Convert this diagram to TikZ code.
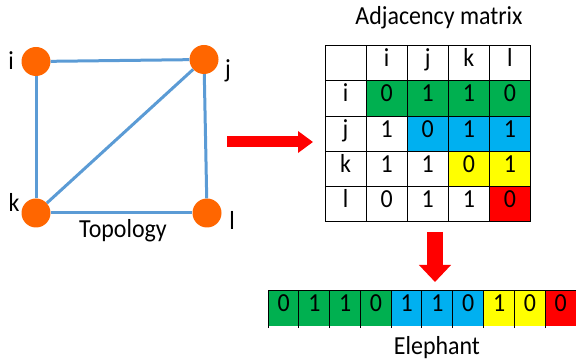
\documentclass[tikz,border=0pt]{standalone}
\usepackage{fontspec}
\usepackage{graphicx}
\setmainfont{Carlito}
\usetikzlibrary{arrows.meta}
\definecolor{vorange}{RGB}{255,102,0}
\definecolor{eblue}{RGB}{91,155,213}
\definecolor{cg}{RGB}{0,176,80}
\definecolor{cb}{RGB}{0,176,240}
\definecolor{cy}{RGB}{255,255,0}
\definecolor{cr}{RGB}{255,0,0}
\newcommand{\sqz}[1]{\scalebox{0.92}[1]{#1}}
\begin{document}
\begin{tikzpicture}[x=1pt,y=-1pt,
  txt/.style={font=\fontsize{26}{30}\selectfont, inner sep=0pt},
  vertex/.style={circle, fill=vorange, minimum size=29pt, inner sep=0pt},
  edge/.style={draw=eblue, line width=3pt},
  cell/.style={draw=black, line width=1pt, minimum width=41.1pt, minimum height=35.2pt, inner sep=0pt,
    font=\fontsize{26}{30}\selectfont, text height=1.45ex, text depth=0pt},
  barcell/.style={minimum width=30.77pt, minimum height=35pt, inner sep=0pt,
    font=\fontsize{26}{30}\selectfont, text height=1.45ex, text depth=0pt},
  bigarrow/.style={draw=cr, line width=11pt, -{Triangle[length=15pt,width=21pt]}},
]
\useasboundingbox (0,0) rectangle (576,363);

% graph
\node[vertex] (gi) at (36,61.5) {};
\node[vertex] (gj) at (204,59.5) {};
\node[vertex] (gk) at (36,213) {};
\node[vertex] (gl) at (207,213) {};
\draw[edge] (gi) -- (gj);
\draw[edge] (gi) -- (gk);
\draw[edge] (gj) -- (gk);
\draw[edge] (gj) -- (gl);
\draw[edge] (gk) -- (gl);
\node[txt] (li) at (11,61) {\sqz{i}};
\node[txt] (lj) at (228,71) {\sqz{j}};
\node[txt] (lk) at (14,202.5) {\sqz{k}};
\node[txt] (ll) at (232,220) {\sqz{l}};
\node[txt] (topo) at (123,231) {\sqz{Topology}};

% arrow right
\coordinate (ra1) at (227,142);
\coordinate (ra2) at (313,142);
\draw[bigarrow] (ra1) -- (ra2);

% matrix
\node[txt] (title) at (439,17.5) {\sqz{Adjacency matrix}};
\foreach [count=\c from 0] \t/\f in {{}/white, i/white, j/white, k/white, l/white}
  \node[cell, fill=\f] (m-0-\c) at ({325+41.1*(\c+0.5)}, 63.3) {\sqz{\t}};
\foreach [count=\c from 0] \t/\f in {i/white, 0/cg, 1/cg, 1/cg, 0/cg}
  \node[cell, fill=\f] (m-1-\c) at ({325+41.1*(\c+0.5)}, 98.5) {\sqz{\t}};
\foreach [count=\c from 0] \t/\f in {j/white, 1/white, 0/cb, 1/cb, 1/cb}
  \node[cell, fill=\f] (m-2-\c) at ({325+41.1*(\c+0.5)}, 133.7) {\sqz{\t}};
\foreach [count=\c from 0] \t/\f in {k/white, 1/white, 1/white, 0/cy, 1/cy}
  \node[cell, fill=\f] (m-3-\c) at ({325+41.1*(\c+0.5)}, 168.9) {\sqz{\t}};
\foreach [count=\c from 0] \t/\f in {l/white, 0/white, 1/white, 1/white, 0/cr}
  \node[cell, fill=\f] (m-4-\c) at ({325+41.1*(\c+0.5)}, 204.1) {\sqz{\t}};

% arrow down
\coordinate (da1) at (435,232);
\coordinate (da2) at (435,282);
\draw[draw=cr, line width=16pt, -{Triangle[length=17pt,width=31pt]}] (da1) -- (da2);

% elephant bar
\foreach [count=\c from 0] \t/\f in {0/cg, 1/cg, 1/cg, 0/cg, 1/cb, 1/cb, 0/cb, 1/cy, 0/cy, 0/cr}
  \node[barcell, fill=\f] (b-\c) at ({268.3+30.77*(\c+0.5)}, 308.5) {\sqz{\t}};
\draw[line width=1pt] (b-0.north west) -- (b-9.north east);
\foreach \c in {0,...,9}
  \draw[line width=1pt] ([yshift=-2pt]b-\c.south west) -- (b-\c.north west);
\draw[line width=1pt] ([yshift=-2pt]b-9.south east) -- (b-9.north east);
\node[txt] (eleph) at (437,348) {\sqz{Elephant}};
\end{tikzpicture}
\end{document}
